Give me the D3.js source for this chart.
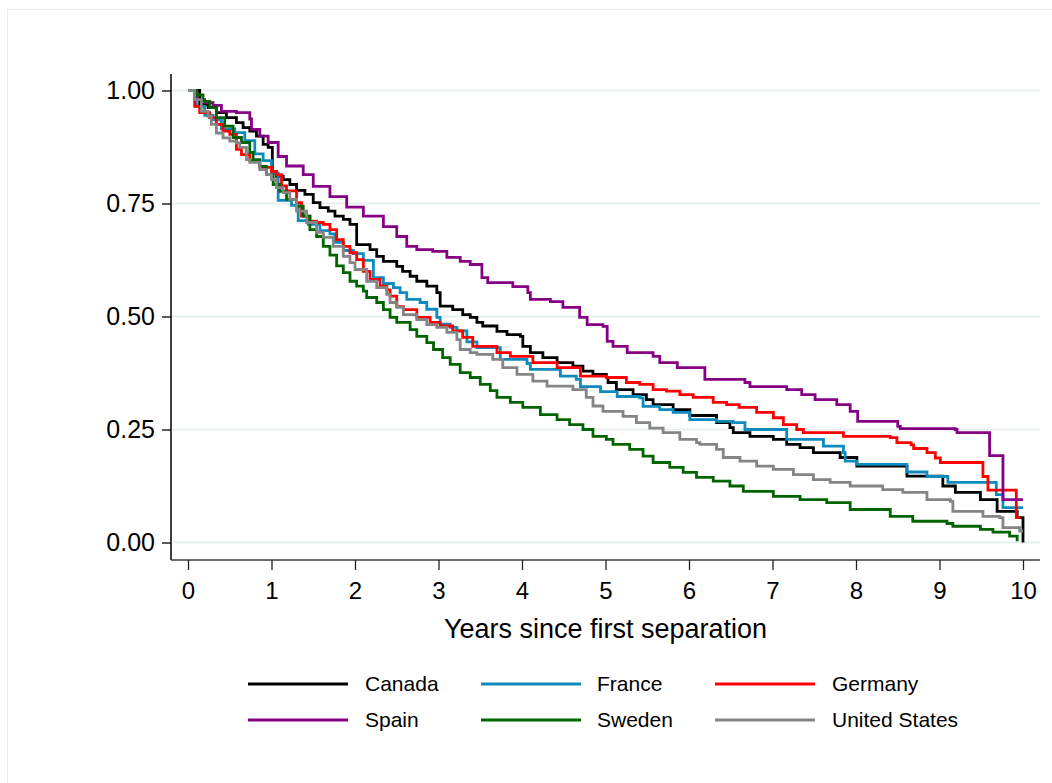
<!DOCTYPE html>
<html>
<head>
<meta charset="utf-8">
<script src="https://cdnjs.cloudflare.com/ajax/libs/d3/7.8.5/d3.min.js"></script>
<style>
    body { margin: 0; background: #fff; }
    text { font-family: "Liberation Sans", Arial, sans-serif; fill: #000; }
</style>
</head>
<body>
<svg id="survival" width="1052" height="783"></svg>
<script>
// Kaplan-Meier steps: [years, survival]
var canada = [[0,1],[0.14,.969],[0.24,.962],[0.34,.951],[0.46,.940],[0.58,.929],[0.66,.918],[0.74,.910],[0.82,.899],[0.90,.881],[0.96,.874],[1.01,.821],[1.06,.810],[1.14,.803],[1.22,.792],[1.30,.779],[1.40,.770],[1.50,.752],[1.58,.741],[1.68,.733],[1.76,.722],[1.86,.715],[1.94,.704],[2.02,.659],[2.18,.648],[2.26,.633],[2.34,.622],[2.50,.611],[2.57,.600],[2.66,.589],[2.74,.578],[2.86,.567],[2.98,.553],[3.02,.523],[3.17,.515],[3.29,.504],[3.38,.498],[3.46,.487],[3.53,.479],[3.70,.467],[3.82,.460],[3.98,.456],[4.01,.434],[4.10,.420],[4.25,.409],[4.42,.398],[4.61,.390],[4.73,.379],[4.85,.372],[5.01,.365],[5.03,.354],[5.13,.338],[5.33,.327],[5.49,.316],[5.57,.305],[5.81,.294],[6.01,.281],[6.33,.265],[6.49,.254],[6.53,.243],[6.73,.235],[7.01,.228],[7.17,.217],[7.33,.210],[7.49,.199],[7.81,.188],[8.01,.169],[8.61,.147],[9.04,.125],[9.19,.111],[9.49,.095],[9.69,.069],[9.93,.055],[10.0,0]];

var france = [[0,1],[0.10,.965],[0.20,.945],[0.30,.935],[0.40,.915],[0.56,.907],[0.68,.889],[0.80,.860],[0.90,.845],[1.00,.817],[1.08,.757],[1.24,.746],[1.32,.712],[1.44,.704],[1.58,.690],[1.70,.683],[1.76,.664],[1.86,.646],[1.98,.639],[2.10,.624],[2.22,.586],[2.34,.573],[2.46,.564],[2.54,.553],[2.62,.538],[2.78,.531],[2.86,.516],[2.98,.498],[3.02,.483],[3.14,.476],[3.22,.468],[3.34,.444],[3.46,.431],[3.74,.405],[4.06,.396],[4.10,.383],[4.46,.368],[4.65,.361],[4.70,.345],[4.94,.334],[5.14,.323],[5.41,.320],[5.45,.301],[5.65,.294],[5.81,.288],[6.01,.272],[6.33,.268],[6.53,.265],[6.67,.250],[7.17,.228],[7.61,.213],[7.85,.199],[7.87,.180],[8.01,.173],[8.61,.156],[8.85,.146],[9.10,.133],[9.68,.106],[9.76,.077],[10.0,.077]];

var germany = [[0,1],[0.08,.965],[0.14,.951],[0.26,.940],[0.34,.925],[0.42,.910],[0.50,.903],[0.58,.870],[0.64,.858],[0.74,.845],[0.86,.830],[1.00,.821],[1.06,.814],[1.12,.789],[1.18,.778],[1.30,.752],[1.36,.722],[1.46,.711],[1.54,.708],[1.62,.704],[1.70,.692],[1.78,.670],[1.86,.655],[1.94,.641],[2.02,.626],[2.10,.600],[2.18,.582],[2.30,.567],[2.38,.559],[2.42,.545],[2.50,.522],[2.58,.515],[2.74,.498],[2.90,.487],[3.02,.479],[3.17,.468],[3.29,.454],[3.41,.434],[3.70,.420],[3.86,.412],[4.13,.398],[4.42,.387],[4.70,.368],[5.01,.365],[5.25,.354],[5.41,.350],[5.57,.338],[5.73,.335],[5.89,.327],[6.05,.321],[6.29,.310],[6.45,.305],[6.60,.299],[6.81,.288],[7.01,.276],[7.13,.261],[7.29,.250],[7.37,.243],[7.85,.235],[8.41,.232],[8.49,.221],[8.66,.216],[8.69,.208],[8.85,.199],[8.95,.187],[9.01,.177],[9.52,.146],[9.58,.116],[9.92,.055],[9.97,.055]];

var spain = [[0,1],[0.10,.980],[0.20,.973],[0.30,.967],[0.40,.954],[0.58,.951],[0.74,.937],[0.76,.914],[0.86,.899],[0.96,.885],[1.08,.854],[1.18,.833],[1.38,.814],[1.50,.788],[1.70,.765],[1.90,.742],[2.10,.722],[2.34,.699],[2.50,.677],[2.62,.655],[2.74,.648],[2.93,.644],[3.10,.631],[3.26,.622],[3.38,.615],[3.52,.586],[3.59,.575],[3.89,.566],[4.07,.553],[4.10,.538],[4.34,.533],[4.49,.520],[4.69,.498],[4.78,.482],[4.97,.478],[5.02,.445],[5.09,.434],[5.26,.420],[5.57,.412],[5.65,.398],[5.86,.387],[6.19,.361],[6.67,.354],[6.73,.345],[7.17,.338],[7.35,.327],[7.51,.316],[7.77,.305],[7.93,.290],[8.02,.268],[8.50,.257],[8.53,.252],[9.19,.250],[9.21,.243],[9.60,.192],[9.76,.095],[10.0,.095]];

var sweden = [[0,1],[0.10,.990],[0.18,.976],[0.26,.962],[0.34,.940],[0.44,.921],[0.54,.896],[0.64,.885],[0.74,.863],[0.78,.847],[0.86,.832],[0.94,.814],[1.02,.792],[1.10,.777],[1.18,.759],[1.30,.744],[1.38,.722],[1.46,.692],[1.54,.677],[1.62,.655],[1.70,.636],[1.78,.612],[1.86,.597],[1.94,.578],[2.02,.567],[2.10,.556],[2.14,.542],[2.26,.531],[2.34,.515],[2.42,.498],[2.50,.487],[2.66,.471],[2.74,.456],[2.86,.442],[2.94,.427],[3.05,.409],[3.14,.394],[3.26,.376],[3.38,.365],[3.50,.350],[3.62,.336],[3.70,.321],[3.86,.310],[4.01,.299],[4.22,.283],[4.42,.272],[4.57,.261],[4.73,.250],[4.85,.235],[5.01,.228],[5.09,.217],[5.29,.206],[5.45,.191],[5.57,.177],[5.77,.166],[5.93,.155],[6.09,.144],[6.29,.136],[6.49,.125],[6.65,.113],[7.01,.102],[7.33,.095],[7.65,.088],[7.93,.073],[8.41,.058],[8.68,.047],[9.09,.042],[9.16,.036],[9.49,.029],[9.64,.023],[9.84,.014],[9.93,.003]];

var unitedStates = [[0,1],[0.08,.980],[0.16,.954],[0.24,.943],[0.28,.925],[0.34,.906],[0.42,.895],[0.50,.888],[0.58,.884],[0.62,.874],[0.70,.847],[0.74,.841],[0.86,.825],[0.94,.814],[1.00,.803],[1.06,.785],[1.14,.774],[1.22,.759],[1.30,.733],[1.42,.708],[1.54,.686],[1.62,.675],[1.74,.655],[1.86,.633],[1.94,.619],[2.00,.604],[2.14,.578],[2.26,.564],[2.38,.549],[2.42,.531],[2.50,.520],[2.58,.504],[2.74,.493],[2.86,.482],[2.98,.476],[3.10,.465],[3.22,.449],[3.26,.427],[3.38,.420],[3.46,.416],[3.65,.405],[3.77,.387],[3.94,.372],[4.13,.357],[4.30,.346],[4.61,.338],[4.77,.321],[4.85,.302],[4.97,.290],[5.21,.279],[5.37,.265],[5.53,.253],[5.69,.243],[5.89,.228],[6.09,.221],[6.13,.217],[6.33,.206],[6.41,.188],[6.61,.180],[6.81,.169],[7.01,.162],[7.25,.150],[7.49,.139],[7.69,.133],[7.93,.125],[8.32,.117],[8.56,.111],[8.85,.095],[9.13,.091],[9.16,.069],[9.52,.058],[9.72,.055],[9.76,.033],[9.96,.025],[10.0,.025]];

var countries = ["Canada", "France", "Germany", "Spain", "Sweden", "United States"];
var seriesData = [canada, france, germany, spain, sweden, unitedStates];
var colors = ["#000000", "#0e8abd", "#ff0000", "#850085", "#006400", "#858585"];

var xTicks = [0, 1, 2, 3, 4, 5, 6, 7, 8, 9, 10];
var yTicks = [0, 0.25, 0.5, 0.75, 1];
var xTitle = "Years since first separation";

var svg = d3.select("#survival");

svg.append("rect")
        .attr("width", 1052)
        .attr("height", 783)
        .style("fill", "#fff");

// outer graph region border
svg.append("rect")
        .attr("x", 7.5)
        .attr("y", 9.5)
        .attr("width", 1100)
        .attr("height", 800)
        .style("fill", "none")
        .style("stroke", "#e6ecee")
        .style("stroke-width", 1);

var plotLeft = 171, plotRight = 1040, plotTop = 74, plotBottom = 560;

var x = d3.scaleLinear().domain([0, 10]).range([188, 1023]);
var y = d3.scaleLinear().domain([0, 1]).range([542.5, 90.5]);

// gridlines
svg.append("g").selectAll("line")
        .data(yTicks)
        .join("line")
        .attr("x1", plotLeft + 1)
        .attr("x2", plotRight)
        .attr("y1", function(d){ return y(d); })
        .attr("y2", function(d){ return y(d); })
        .style("stroke", "#e8f0f1")
        .style("stroke-width", 2);

// y axis
var yAxis = svg.append("g")
        .attr("transform", "translate(" + plotLeft + ",0)")
        .call(d3.axisLeft(y).tickValues(yTicks).tickFormat(d3.format(".2f")).tickSize(9).tickPadding(7));
yAxis.select(".domain")
        .attr("d", "M0," + plotTop + "V" + plotBottom)
        .style("stroke", "#000")
        .style("stroke-width", 1.5);
yAxis.selectAll(".tick line").style("stroke", "#000").style("stroke-width", 1.3);
yAxis.selectAll(".tick text")
        .style("font-size", "25px")
        .style("font-family", "'Liberation Sans', Arial, sans-serif")
        .style("fill", "#000");

// x axis
var xAxis = svg.append("g")
        .attr("transform", "translate(0," + plotBottom + ")")
        .call(d3.axisBottom(x).tickValues(xTicks).tickFormat(d3.format("d")).tickSize(10).tickPadding(12));
xAxis.select(".domain")
        .attr("d", "M" + plotLeft + ",0H" + plotRight)
        .style("stroke", "#3c3c3c")
        .style("stroke-width", 1.5);
xAxis.selectAll(".tick line").style("stroke", "#222").style("stroke-width", 1.3);
xAxis.selectAll(".tick text")
        .style("font-size", "24px")
        .style("font-family", "'Liberation Sans', Arial, sans-serif")
        .style("fill", "#000");

svg.append("text")
        .attr("x", (x(0) + x(10)) / 2)
        .attr("y", 638)
        .attr("text-anchor", "middle")
        .style("font-size", "27px")
        .text(xTitle);

// survival curves, drawn in order so later ones sit on top
var line = d3.line()
        .x(function(d){ return x(d[0]); })
        .y(function(d){ return y(d[1]); })
        .curve(d3.curveStepAfter);

svg.append("g").selectAll("path")
        .data(seriesData)
        .join("path")
        .attr("d", line)
        .style("fill", "none")
        .style("stroke", function(d, i){ return colors[i]; })
        .style("stroke-width", 2.8)
        .style("stroke-linejoin", "miter")
        .style("stroke-linecap", "butt");

// legend: 3 columns, 2 rows
var legendLineX = [248, 481, 715];
var legendTextX = [365, 597, 832];
var legendRowY = [684, 720];

var legend = svg.append("g").selectAll("g")
        .data(countries)
        .join("g")
        .attr("transform", function(d, i){
            return "translate(0," + legendRowY[Math.floor(i / 3)] + ")";
        });

legend.append("line")
        .attr("x1", function(d, i){ return legendLineX[i % 3]; })
        .attr("x2", function(d, i){ return legendLineX[i % 3] + 100; })
        .style("stroke", function(d, i){ return colors[i]; })
        .style("stroke-width", 3);

legend.append("text")
        .attr("x", function(d, i){ return legendTextX[i % 3]; })
        .attr("dy", "0.35em")
        .style("font-size", "21px")
        .text(function(d){ return d; });
</script>
</body>
</html>
